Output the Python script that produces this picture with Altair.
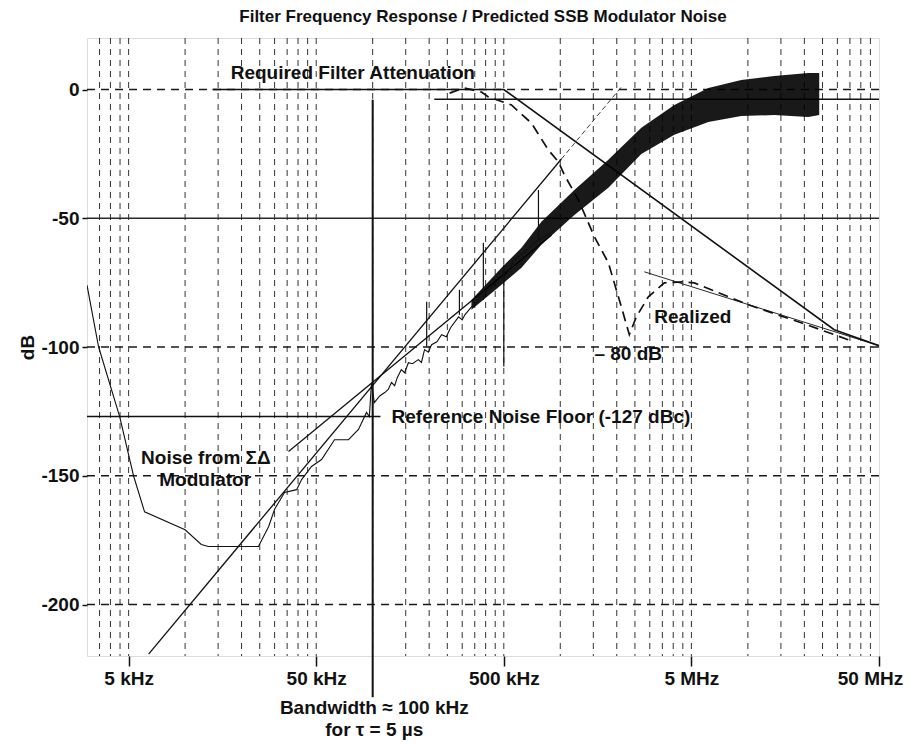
import altair as alt
import pandas as pd

FONT = "Liberation Sans"
INK = "#111111"

# ---------------- axes (frequency in kHz, level in dB) ----------------
x_domain = [3.0, 50000.0]
y_domain = [-220, 20]
x_tick_values = [5, 50, 500, 5000, 50000]
x_tick_labels = ["5 kHz", "50 kHz", "500 kHz", "5 MHz", "50 MHz"]
y_tick_values = [0, -50, -100, -150, -200]
y_tick_labels = ["0", "-50", "-100", "-150", "-200"]

grid_decades = [5, 50, 500, 5000]
grid_multipliers = [1, 2, 3, 4, 5, 6, 7, 8, 9]
grid_low = [3.5, 4.0, 4.5]
hgrid_db = [0, -100, -150, -200]
solid_h_db = [-50]

# ---------------- noise from the sigma-delta modulator (thin trace) ----------------
noise_f = [3.0, 3.46, 4.48, 5.31, 6.08, 10.0, 12.2, 13.3, 24.6, 27.9, 30.0, 33.9,
           39.3, 41.8, 47.2, 53.4, 62.6, 74.3, 84.0, 92.7, 96.0, 98.5, 102, 109,
           116, 121, 126, 131, 135, 142, 148, 155, 163, 175, 182, 189, 198, 206, 220, 233, 247, 260, 287,
           300, 310, 336, 358, 380, 420, 468, 520, 569, 650, 728, 830, 930]
noise_db = [-76, -100, -127, -150, -164, -171, -176.7, -177.5, -177.5, -169.7, -163, -156.5,
            -155.4, -151.5, -146.4, -143.7, -136, -136, -132, -125.4, -127, -114, -121.6, -119,
            -117.7, -116.5, -113.8, -115, -112, -108.8, -110, -106.1, -106.5, -104.9, -106, -101, -102, -99.1, -98, -95.2, -96, -92.5, -88.3,
            -89.5, -87.5, -84.4, -83, -79, -77.5, -73.9, -71.5, -66.2, -63, -59.5, -57, -54.5]

# thick (noisy) part of the trace: upper / lower envelope
band_f = [336, 486, 621, 793, 1189, 1804, 2704, 4055, 6152, 9222, 13826, 20983, 24010]
band_top = [-81.7, -69.2, -61.5, -51.4, -39.0, -27.3, -14.9, -6.0, 0.6, 3.7, 5.2, 6.4, 6.4]
band_bot = [-85.5, -75.8, -69.2, -60.3, -48.7, -38.2, -25.0, -17.6, -12.6, -10.3, -9.9, -10.7, -9.9]

# spurs on the trace
spur_f = [194, 290, 389, 500, 765]
spur_top = [-82.4, -77.8, -59.5, -68, -39]
spur_bot = [-99.9, -87.5, -81.7, -107.6, -58.4]

# ---------------- straight asymptotes ----------------
lineA_f = [6.39, 1014]
lineA_db = [-219.3, -27]
lineA_top_f = [1014, 2116]
lineA_top_db = [-27, 1]
lineB_f = [35.6, 897]
lineB_db = [-140.6, -56.5]

# required filter attenuation
req_f = [14, 500, 28860, 50000]
req_db = [0, 0, -93.3, -99.5]
flat_f = [213, 50000]
flat_db = [-3.8, -3.8]
tangent_f = [2805, 50000]
tangent_db = [-70.8, -99.5]

# realized filter (dashed)
real_f = [257, 308, 380, 414, 549, 701, 864, 977, 1052, 1249, 1520, 1804, 2116, 2334,
          2543, 2947, 3586, 4584, 5180, 10050, 18553, 28860, 34263]
real_db = [-1.4, 0.6, -1.0, -2.9, -6.0, -13.0, -23.5, -28.1, -33.2, -42.9, -57.2, -67.3, -84.4, -95.2,
           -88.3, -80.5, -75.1, -74.7, -75.1, -83.6, -90.2, -95.2, -97.2]

# reference noise floor
floor_f = [3.0, 110]
floor_db = [-127, -127]

# bandwidth marker
bw_f = [100]
bw_top = [-4]
bw_bot = [-236]

# ---------------- annotations ----------------
left_text = ["Required Filter Attenuation", "Reference Noise Floor (-127 dBc)", "Realized", "\u2013  80 dB"]
left_text_f = [17.5, 126, 3170, 1520]
left_text_db = [6.3, -127, -88.3, -102.8]
center_text = ["Noise from \u03a3\u0394", "Modulator", "Bandwidth \u2248 100 kHz", "for \u03c4 = 5 \u00b5s"]
center_text_f = [12.9, 12.8, 102, 102]
center_text_db = [-143, -151.5, -240.2, -248.6]

# ---------------- chart ----------------
xs = alt.Scale(type="log", domain=x_domain)
ys = alt.Scale(domain=y_domain)

x_expr = " : ".join(
    f"datum.value == {v} ? '{t}'" for v, t in zip(x_tick_values, x_tick_labels)
) + " : ''"
y_expr = " : ".join(
    f"datum.value == {v} ? '{t}'" for v, t in zip(y_tick_values, y_tick_labels)
) + " : ''"

x_axis = alt.Axis(values=x_tick_values, labelExpr=x_expr, grid=False, domain=False,
                  tickSize=10, tickWidth=1.5, tickColor=INK, labelPadding=3,
                  labelFont=FONT, labelFontSize=19, labelFontWeight="bold", labelColor=INK,
                  labelFlush=False, labelOverlap=False,
                  labelOffset={"condition": {"test": f"datum.value == {x_tick_values[-1]}", "value": -9},
                               "value": 0})
y_axis = alt.Axis(values=y_tick_values, labelExpr=y_expr, grid=False, domain=False,
                  tickSize=5, tickWidth=1.5, tickColor=INK, labelPadding=3,
                  labelFont=FONT, labelFontSize=19, labelFontWeight="bold", labelColor=INK,
                  title="dB", titleFont=FONT, titleFontSize=19, titleFontWeight="bold",
                  titleColor=INK, titleX=-60, titleY=309, titleAlign="center",
                  titleBaseline="middle")


def X(field):
    return alt.X(f"{field}:Q", scale=xs, axis=x_axis, title="")


def Y(field):
    return alt.Y(f"{field}:Q", scale=ys, axis=y_axis, title="dB")


def line(f, db, **mk):
    df = pd.DataFrame({"f": f, "db": db})
    return alt.Chart(df).mark_line(clip=True, **mk).encode(x=X("f"), y=Y("db"))


vgrid = [d * m for d in grid_decades for m in grid_multipliers] + grid_low
vgrid_layer = alt.Chart(pd.DataFrame({"f": vgrid})).mark_rule(
    color="#333333", strokeWidth=1.0, strokeDash=[6, 5]).encode(x=X("f"))
hgrid_layer = alt.Chart(pd.DataFrame({"db": hgrid_db})).mark_rule(
    color="#1a1a1a", strokeWidth=1.4, strokeDash=[8, 6]).encode(y=Y("db"))
hsolid_layer = alt.Chart(pd.DataFrame({"db": solid_h_db})).mark_rule(
    color="#2a2a2a", strokeWidth=1.4).encode(y=Y("db"))

band_layer = alt.Chart(pd.DataFrame({"f": band_f, "top": band_top, "bot": band_bot})).mark_area(
    color="#000000", opacity=0.9, clip=True).encode(x=X("f"), y=Y("top"), y2="bot:Q")

spur_layer = alt.Chart(pd.DataFrame({"f": spur_f, "top": spur_top, "bot": spur_bot})).mark_rule(
    color=INK, strokeWidth=1.2).encode(x=X("f"), y=Y("top"), y2="bot:Q")

bw_layer = alt.Chart(pd.DataFrame({"f": bw_f, "top": bw_top, "bot": bw_bot})).mark_rule(
    color=INK, strokeWidth=2, clip=False).encode(x=X("f"), y=Y("top"), y2="bot:Q")

left_txt = alt.Chart(pd.DataFrame({"f": left_text_f, "db": left_text_db, "t": left_text})).mark_text(
    align="left", baseline="middle", font=FONT, fontSize=19, fontWeight="bold", color=INK,
    clip=False).encode(x=X("f"), y=Y("db"), text="t:N")
center_txt = alt.Chart(pd.DataFrame({"f": center_text_f, "db": center_text_db, "t": center_text})).mark_text(
    align="center", baseline="middle", font=FONT, fontSize=19, fontWeight="bold", color=INK,
    clip=False).encode(x=X("f"), y=Y("db"), text="t:N")

layers = [
    vgrid_layer, hgrid_layer, hsolid_layer,
    line(floor_f, floor_db, color=INK, strokeWidth=1.4),
    line(req_f, req_db, color=INK, strokeWidth=1.6),
    line(flat_f, flat_db, color=INK, strokeWidth=1.4),
    line(tangent_f, tangent_db, color=INK, strokeWidth=0.9),
    line(real_f, real_db, color=INK, strokeWidth=1.7, strokeDash=[10, 6]),
    line(lineA_f, lineA_db, color=INK, strokeWidth=1.3),
    line(lineA_top_f, lineA_top_db, color=INK, strokeWidth=0.8, strokeDash=[5, 3]),
    line(lineB_f, lineB_db, color=INK, strokeWidth=1.3),
    band_layer,
    line(noise_f, noise_db, color=INK, strokeWidth=1.1),
    spur_layer, bw_layer, left_txt, center_txt,
]

chart = alt.layer(*layers).properties(
    width=792, height=618,
    title=alt.TitleParams(text="Filter Frequency Response / Predicted SSB Modulator Noise",
                          font=FONT, fontSize=17, fontWeight="bold", color=INK,
                          anchor="middle", offset=12),
    autosize=alt.AutoSizeParams(type="none"),
    padding={"left": 79, "top": 30, "right": 26, "bottom": 85},
).configure_view(stroke=INK, strokeWidth=1.5).configure(background="white")

chart.save("out.html", embed_options={"renderer": "svg", "actions": False})
